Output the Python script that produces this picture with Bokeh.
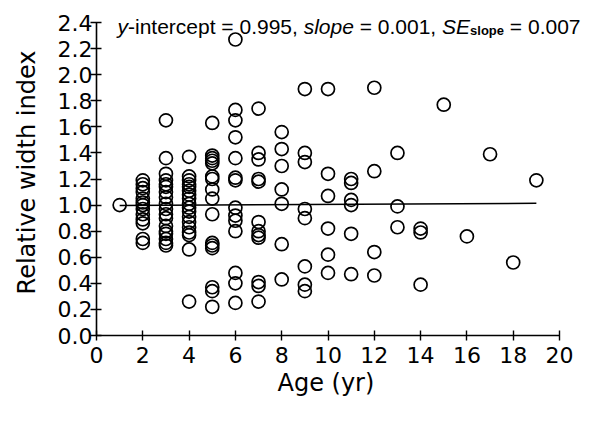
import numpy as np
from bokeh.plotting import figure
from bokeh.models import FixedTicker, PrintfTickFormatter, Label, Range1d, Title
from bokeh.embed import file_html
from bokeh.resources import INLINE

# ---- data: relative width index by age (yr) ----
age_01 = [1.00]
age_02 = [1.19, 1.16, 1.13, 1.10, 1.05, 1.02, 1.00, 0.97, 0.93, 0.89, 0.86, 0.74, 0.71]
age_03 = [1.65, 1.36, 1.24, 1.19, 1.16, 1.14, 1.10, 1.06, 1.01, 0.97, 0.93, 0.90,
          0.84, 0.80, 0.78, 0.74, 0.71, 0.69]
age_04 = [1.37, 1.22, 1.19, 1.16, 1.14, 1.11, 1.08, 1.05, 1.01, 0.98, 0.95, 0.91,
          0.87, 0.83, 0.79, 0.77, 0.66, 0.26]
age_05 = [1.63, 1.38, 1.36, 1.34, 1.32, 1.22, 1.20, 1.12, 1.05, 0.93, 0.71, 0.69,
          0.67, 0.37, 0.34, 0.22]
age_06 = [2.27, 1.73, 1.65, 1.52, 1.36, 1.21, 1.19, 0.98, 0.92, 0.88, 0.80, 0.48,
          0.40, 0.25]
age_07 = [1.74, 1.40, 1.35, 1.20, 1.18, 0.87, 0.80, 0.77, 0.75, 0.41, 0.38, 0.26]
age_08 = [1.56, 1.43, 1.30, 1.12, 1.01, 0.70, 0.43]
age_09 = [1.89, 1.40, 1.33, 0.97, 0.90, 0.53, 0.39, 0.34]
age_10 = [1.89, 1.24, 1.07, 0.82, 0.62, 0.48]
age_11 = [1.20, 1.17, 1.04, 1.00, 0.78, 0.47]
age_12 = [1.90, 1.26, 0.64, 0.46]
age_13 = [1.40, 0.99, 0.83]
age_14 = [0.82, 0.79, 0.39]
age_15 = [1.77]
age_16 = [0.76]
age_17 = [1.39]
age_18 = [0.56]
age_19 = [1.19]

ages = list(range(1, 20))
groups = [age_01, age_02, age_03, age_04, age_05, age_06, age_07, age_08, age_09,
          age_10, age_11, age_12, age_13, age_14, age_15, age_16, age_17, age_18, age_19]

intercept = 0.995
slope = 0.001
se_slope = 0.007

x_ticks = [0, 2, 4, 6, 8, 10, 12, 14, 16, 18, 20]
y_ticks = [0.0, 0.2, 0.4, 0.6, 0.8, 1.0, 1.2, 1.4, 1.6, 1.8, 2.0, 2.2, 2.4]

xs = np.concatenate([[a] * len(g) for a, g in zip(ages, groups)])
ys = np.concatenate(groups)

# ---- figure ----
AX_FONT = "DejaVu Sans"
FRAME_LEFT = 96
p = figure(frame_width=507, frame_height=326,
           x_range=Range1d(0, 21.9), y_range=Range1d(0, 2.5),
           min_border_left=FRAME_LEFT, min_border_right=4, min_border_top=9,
           min_border_bottom=70,
           output_backend="svg", toolbar_location=None, tools="")
p.outline_line_color = None
p.xgrid.visible = False
p.ygrid.visible = False
p.background_fill_color = "white"
p.border_fill_color = "white"

for ax in (p.xaxis[0], p.yaxis[0]):
    ax.axis_line_color = "black"
    ax.axis_line_width = 1.6
    ax.major_tick_line_color = "black"
    ax.major_tick_line_width = 1.4
    ax.minor_tick_line_color = None
    ax.major_label_text_font = AX_FONT
    ax.major_label_text_font_size = "22px"
    ax.major_label_text_color = "black"

p.xaxis.ticker = FixedTicker(ticks=x_ticks, minor_ticks=[])
p.yaxis.ticker = FixedTicker(ticks=y_ticks, minor_ticks=[])
p.xaxis.bounds = (0, 20)
p.yaxis.bounds = (0, 2.4)
p.yaxis.formatter = PrintfTickFormatter(format="%.1f")
p.xaxis.major_tick_in = 5
p.xaxis.major_tick_out = 5
p.yaxis.major_tick_in = 5
p.yaxis.major_tick_out = 6
p.xaxis.major_label_standoff = 6
p.yaxis.major_label_standoff = -2

p.yaxis.axis_label = "Relative width index"
p.yaxis.axis_label_text_font = AX_FONT
p.yaxis.axis_label_text_font_size = "24px"
p.yaxis.axis_label_text_font_style = "normal"
p.yaxis.axis_label_text_color = "black"
p.yaxis.axis_label_standoff = 14

xlab = Title(text="Age (yr)", align="left", offset=181, standoff=2,
             text_font=AX_FONT, text_font_size="24px", text_font_style="normal",
             text_color="black")
p.add_layout(xlab, "below")

# regression line
lx = np.array([min(ages), max(ages)], dtype=float)
ly = intercept + slope * lx
p.line(lx, ly, line_color="black", line_width=1.5)

# points
p.scatter(xs, ys, marker="circle", size=13, fill_color=None,
          line_color="black", line_width=1.7)

# ---- title made of styled pieces (Arial / Liberation Sans metrics) ----
W_REG = {' ': .278, '-': .333, '=': .584, '.': .278, ',': .278, 'y': .5, 'i': .222,
         'n': .556, 't': .278, 'e': .556, 'r': .333, 'c': .5, 'p': .556, 's': .5,
         'l': .222, 'o': .556, 'S': .667, 'E': .667}
W_BOLD = {'s': .556, 'l': .278, 'o': .611, 'p': .611, 'e': .556, ' ': .278}


def text_width(txt, style, size):
    table = W_BOLD if style == "bold" else W_REG
    return sum(table.get(ch, .556) for ch in txt) * size


def px2x(px):
    return (px - 97) / 23.15


TF = "Liberation Sans"
FS = 21
SUB = 13
base_y = 2.37
sub_y = 2.34
pieces = [
    ("y", "italic", FS, base_y),
    ("-intercept = " + f"{intercept:.3f}" + ", ", "normal", FS, base_y),
    ("slope", "italic", FS, base_y),
    (" = " + f"{slope:.3f}" + ", ", "normal", FS, base_y),
    ("SE", "italic", FS, base_y),
    ("slope", "bold", SUB, sub_y),
    (" = " + f"{se_slope:.3f}", "normal", FS, base_y),
]
cur = 118.0
for txt, style, size, yy in pieces:
    lead = len(txt) - len(txt.lstrip(" "))
    cur += lead * W_REG[' '] * size
    body = txt.strip(" ")
    p.add_layout(Label(x=px2x(cur), y=yy, text=body, text_font=TF,
                       text_font_size=f"{size}px", text_font_style=style,
                       text_align="left", text_baseline="alphabetic",
                       text_color="black"))
    cur += text_width(body, style, size)
    trail = len(txt) - len(txt.rstrip(" "))
    cur += trail * W_REG[' '] * size

open("out.html", "w").write(file_html(p, INLINE))
